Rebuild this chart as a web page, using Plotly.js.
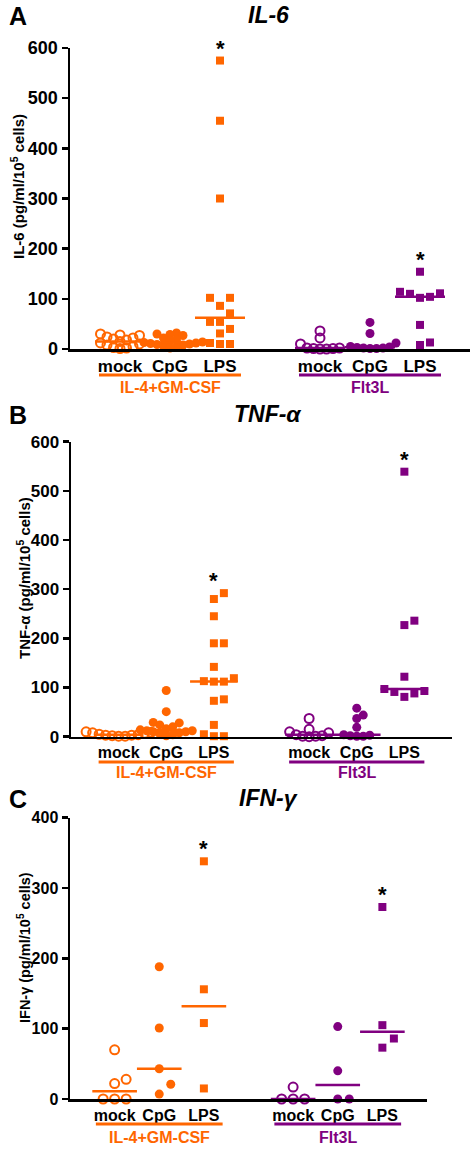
<!DOCTYPE html>
<html><head><meta charset="utf-8">
<script src="https://cdn.plot.ly/plotly-3.0.1.min.js"></script>
<style>html,body{margin:0;padding:0;background:#fff}</style>
</head><body><div id="chart" style="width:475px;height:1149px"></div>
<script>
// ---- data ----
const groups = ["mock", "CpG", "LPS", "mock", "CpG", "LPS"];
const groupNames = ["IL-4+GM-CSF", "Flt3L"];

// Panel A: IL-6
const il6_il4_mock = [30, 28, 27, 24, 22, 20, 18, 15, 12, 10, 8, 5, 3, 2, 1];
const il6_il4_cpg  = [32, 30, 29, 27, 22, 18, 16, 14, 13, 12, 11, 10, 9, 8, 6, 4, 2];
const il6_il4_lps  = [575, 455, 300, 102, 102, 86, 71, 54, 54, 40, 31, 12, 10, 10];
const il6_flt_mock = [36, 22, 10, 2, 2, 1, 1, 0, 0];
const il6_flt_cpg  = [53, 31, 12, 5, 4, 3, 2, 2, 1, 1];
const il6_flt_lps  = [154, 114, 111, 110, 104, 102, 48, 13, 8];

// Panel B: TNF-alpha
const tnf_il4_mock = [10, 9, 8, 7, 5, 4, 3, 3, 2, 1, 1];
const tnf_il4_cpg  = [94, 51, 29, 28, 24, 20, 16, 14, 12, 12, 10, 10, 8, 6, 4, 2];
const tnf_il4_lps  = [292, 280, 245, 190, 190, 142, 119, 113, 112, 112, 76, 73, 24, 5, 1, 1];
const tnf_flt_mock = [37, 15, 10, 8, 4, 2, 1, 1, 0];
const tnf_flt_cpg  = [58, 44, 37, 19, 4, 3, 2, 1, 1];
const tnf_flt_lps  = [539, 236, 227, 122, 97, 93, 91, 88, 81];

// Panel C: IFN-gamma
const ifn_il4_mock = [70, 28, 22, 0, 0, 0];
const ifn_il4_cpg  = [188, 101, 43, 21, 7];
const ifn_il4_lps  = [338, 156, 108, 15];
const ifn_flt_mock = [17, 0, 0, 0];
const ifn_flt_cpg  = [103, 40, 0, 0];
const ifn_flt_lps  = [273, 105, 86, 73];

const yTicksA = [0, 100, 200, 300, 400, 500, 600];
const yTicksB = [0, 100, 200, 300, 400, 500, 600];
const yTicksC = [0, 100, 200, 300, 400];

// ---- styling ----
const ORANGE = "#FF6600", PURPLE = "#800080";
const FONT = "Liberation Sans, Arial, sans-serif";
const W = 475, H = 1149;
const py = v => 1 - v / H;
const px = v => v / W;

const panels = [
  {key: "", data: [il6_il4_mock, il6_il4_cpg, il6_il4_lps, il6_flt_mock, il6_flt_cpg, il6_flt_lps],
   dom: [70, 470], top: 48, bot: 349, ymax: 600, ticks: yTicksA, dc: 6.5, ds: 10, ms: 9, ss: 8,
   letter: "A", title: "<i>IL-6</i>", titleY: 15, ytitle: "IL-6 (pg/ml/10<sup>5</sup> cells)", ytX: 17, ytY: 187, ytFont: 15,
   lineY: 375, labY: 387, tickFont: 17, ytickFont: 18, grpFont: 16},
  {key: "2", data: [tnf_il4_mock, tnf_il4_cpg, tnf_il4_lps, tnf_flt_mock, tnf_flt_cpg, tnf_flt_lps],
   dom: [71, 452], top: 441.7, bot: 736.7, ymax: 600, ticks: yTicksB, dc: 6.5, ds: 10, ms: 9, ss: 8,
   letter: "B", title: "<i>TNF-α</i>", titleY: 414, ytitle: "TNF-α (pg/ml/10<sup>5</sup> cells)", ytX: 23, ytY: 578, ytFont: 15,
   lineY: 762, labY: 772, tickFont: 16, ytickFont: 17, grpFont: 16},
  {key: "3", data: [ifn_il4_mock, ifn_il4_cpg, ifn_il4_lps, ifn_flt_mock, ifn_flt_cpg, ifn_flt_lps],
   dom: [70, 427], top: 817.7, bot: 1099, ymax: 400, ticks: yTicksC, dc: 11.5, ds: 11.5, ms: 9, ss: 8,
   letter: "C", title: "<i>IFN-γ</i>", titleY: 798, ytitle: "IFN-γ (pg/ml/10<sup>5</sup> cells)", ytX: 24, ytY: 948, ytFont: 14.5,
   lineY: 1124, labY: 1137, tickFont: 16, ytickFont: 16, grpFont: 16}
];
const positions = [1, 2, 3, 5, 6, 7];
const XR = [0, 8];

function median(a) {
  const s = [...a].sort((x, y) => x - y), n = s.length;
  return n % 2 ? s[(n - 1) / 2] : (s[n / 2 - 1] + s[n / 2]) / 2;
}
// deterministic beeswarm: offsets in pixel space, converted to axis units
function swarm(vals, c, sx, sy, d) {
  const idx = vals.map((v, i) => i).sort((a, b) => vals[a] - vals[b]);
  const placed = [], xs = new Array(vals.length);
  const step = d / 2;
  for (const i of idx) {
    const yy = vals[i] * sy;
    let found = false;
    for (let k = 0; k < 60 && !found; k++) {
      const cands = k === 0 ? [0] : [k * step, -k * step];
      for (const ox of cands) {
        if (placed.every(p => Math.hypot(p[0] - ox, p[1] - yy) >= d - 0.01)) {
          placed.push([ox, yy]); xs[i] = c + ox / sx; found = true; break;
        }
      }
    }
  }
  return xs;
}

const traces = [], annotations = [], shapes = [];
const layout = {
  width: W, height: H, margin: {l: 0, r: 0, t: 0, b: 0},
  paper_bgcolor: "#fff", plot_bgcolor: "#fff", showlegend: false,
  font: {family: FONT, color: "#000"}
};

panels.forEach(p => {
  const xa = "x" + p.key, ya = "y" + p.key;
  const sx = (p.dom[1] - p.dom[0]) / (XR[1] - XR[0]);
  const sy = (p.bot - p.top) / p.ymax;
  layout["xaxis" + p.key] = {
    domain: [px(p.dom[0]), px(p.dom[1])], range: XR, anchor: ya,
    showline: true, linewidth: 2.5, linecolor: "#000", showgrid: false, zeroline: false,
    tickvals: positions, ticktext: groups, ticks: "", ticklabelstandoff: 0,
    tickfont: {family: FONT, size: p.tickFont, color: "#000", weight: "bold"}, fixedrange: true
  };
  layout["yaxis" + p.key] = {
    domain: [py(p.bot), py(p.top)], range: [0, p.ymax], anchor: xa,
    showline: true, linewidth: 2.5, linecolor: "#000", showgrid: false, zeroline: false,
    tickvals: p.ticks, ticks: "outside", ticklen: 6, tickwidth: 2.5, tickcolor: "#000",
    tickfont: {family: FONT, size: p.ytickFont, color: "#000", weight: "bold"}, fixedrange: true
  };
  p.data.forEach((vals, gi) => {
    const c = positions[gi];
    const col = gi < 3 ? ORANGE : PURPLE;
    const kind = gi % 3; // 0 mock open circle, 1 CpG filled circle, 2 LPS square
    const xs = swarm(vals, c, sx, sy, kind === 2 ? p.ds : p.dc);
    traces.push({
      type: "scatter", mode: "markers", x: xs, y: vals, xaxis: xa, yaxis: ya, cliponaxis: false,
      marker: kind === 0 ? {symbol: "circle-open", size: p.ms, color: col, line: {width: 2, color: col}}
            : kind === 1 ? {symbol: "circle", size: p.ms, color: col, line: {width: 0}}
            : {symbol: "square", size: p.ss, color: col, line: {width: 0}},
      hoverinfo: "y"
    });
    const m = median(vals);
    traces.push({
      type: "scatter", mode: "lines", x: [c - 0.5, c + 0.5], y: [m, m], xaxis: xa, yaxis: ya,
      cliponaxis: false, line: {color: col, width: 2.5}, hoverinfo: "skip"
    });
    if (kind === 2) {
      annotations.push({xref: xa, yref: ya, x: c, y: Math.max(...vals), text: "<b>*</b>",
        showarrow: false, yanchor: "bottom", yshift: -2, font: {family: FONT, size: 22, color: "#000"}});
    }
  });
  // group underline + label
  [[2, ORANGE, groupNames[0]], [6, PURPLE, groupNames[1]]].forEach(([gc, col, name]) => {
    shapes.push({type: "line", xref: xa, yref: "paper", x0: gc - 1.42, x1: gc + 1.42,
      y0: py(p.lineY), y1: py(p.lineY), line: {color: col, width: 3}});
    annotations.push({xref: xa, yref: "paper", x: gc, y: py(p.labY), text: "<b>" + name + "</b>",
      showarrow: false, yanchor: "middle", font: {family: FONT, size: p.grpFont, color: col}});
  });
  // panel letter and title
  annotations.push({xref: "paper", yref: "paper", x: px(18), y: py(p.titleY + 1), text: "<b>" + p.letter + "</b>",
    showarrow: false, xanchor: "center", yanchor: "middle", font: {family: FONT, size: 25, color: "#000"}});
  annotations.push({xref: "paper", yref: "paper", x: px(268), y: py(p.titleY), text: "<b>" + p.title + "</b>",
    showarrow: false, xanchor: "center", yanchor: "middle", font: {family: FONT, size: 23, color: "#000"}});
  annotations.push({xref: "paper", yref: "paper", x: px(p.ytX), y: py(p.ytY), text: "<b>" + p.ytitle + "</b>",
    textangle: -90, showarrow: false, xanchor: "center", yanchor: "middle", font: {family: FONT, size: p.ytFont, color: "#000"}});
});
layout.annotations = annotations;
layout.shapes = shapes;
Plotly.newPlot("chart", traces, layout, {displayModeBar: false, staticPlot: true});
</script></body></html>
